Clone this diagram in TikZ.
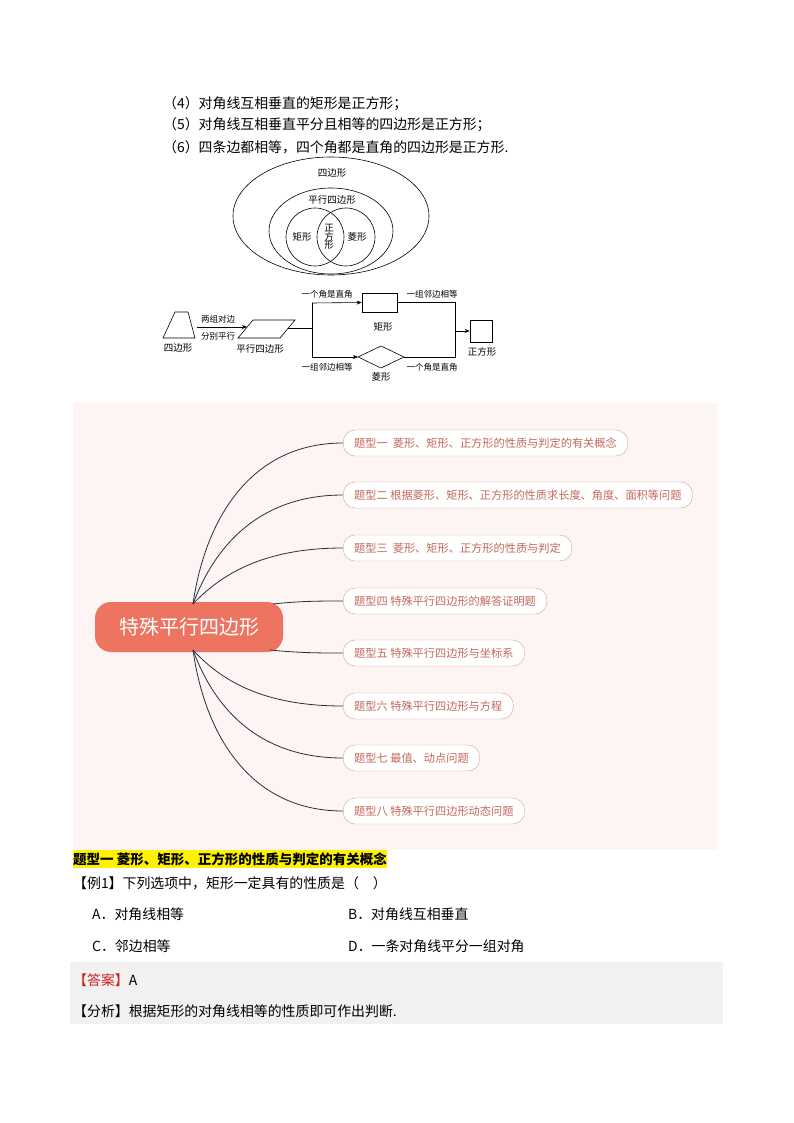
\documentclass[tikz,border=0pt]{standalone}
\usepackage{fontspec}
\setmainfont{Noto Sans CJK SC}
\usetikzlibrary{arrows.meta}
\definecolor{mmbg}{HTML}{FDF5F3}
\definecolor{mmc}{HTML}{EE7462}
\definecolor{mmtxt}{HTML}{C4685B}
\definecolor{mmbd}{HTML}{D9A197}
\definecolor{mmline}{HTML}{2A2D45}
\definecolor{ansbg}{HTML}{F1F1F1}
\definecolor{ansred}{HTML}{D01F1F}
\tikzset{
  fs/.style={font=\fontsize{#1}{#1}\selectfont},
  ptxt/.style={anchor=west,inner sep=0pt,fs=13.9},
  lab/.style={inner sep=0pt,fs=8.5},
  topic/.style={draw=mmbd,fill=white,rounded corners=12pt,minimum height=26pt,anchor=west,inner xsep=11pt,text=mmtxt,fs=11.2},
  branch/.style={draw=mmline,line width=0.8pt},
  fl/.style={draw=black,line width=0.6pt},
  fa/.style={fl,-{Stealth[length=5pt,width=4pt]}}
}
\begin{document}
\begin{tikzpicture}[x=1pt,y=-1pt]
\fill[white] (0,0) rectangle (794,1123);
\useasboundingbox (0,0) rectangle (794,1123);
% text lines
\node[ptxt] (l4) at (163,104) {（4）对角线互相垂直的矩形是正方形；};
\node[ptxt] (l5) at (163,125) {（5）对角线互相垂直平分且相等的四边形是正方形；};
\node[ptxt] (l6) at (163,147) {（6）四条边都相等，四个角都是直角的四边形是正方形.};
% Venn
\draw[fl] (331,216) ellipse (98 and 59);
\draw[fl] (331,231) ellipse (62 and 43);
\draw[fl] (315,237) circle (29);
\draw[fl] (346,237) circle (29);
\node[lab,fs=9.5] (v1) at (332,173) {四边形};
\node[lab,fs=9.5] (v2) at (332,200) {平行四边形};
\node[lab,fs=9.5] (v3) at (302,237) {矩形};
\node[lab,fs=9.5] (v4) at (357,237) {菱形};
\node[lab,fs=9.5,align=center] (v5) at (329,237) {正\\[-1pt]方\\[-1pt]形};
% flow chart
\draw[fl] (163,338) -- (175,312) -- (188,312) -- (195,338) -- cycle;
\node[lab,fs=9.5] (q) at (178,348) {四边形};
\coordinate (a1) at (197,327); \coordinate (a2) at (247,327);
\draw[fa] (a1) -- (a2);
\node[lab] (t1) at (218,319) {两组对边};
\node[lab] (t2) at (218,336) {分别平行};
\draw[fl] (238,338) -- (253,320) -- (295,320) -- (280,338) -- cycle;
\node[lab,fs=9.5] (pq) at (260,349) {平行四边形};
\coordinate (b1) at (288,328); \coordinate (b2) at (312,328);
\coordinate (bt) at (312,303); \coordinate (bb) at (312,357);
\draw[fl] (b1) -- (b2); \draw[fl] (bt) -- (bb);
\node[fl,draw,minimum width=35pt,minimum height=19pt,inner sep=0pt] (rect) at (379.5,302.5) {};
\draw[fa] (bt) -- (rect.west);
\node[lab] (t3) at (327,294) {一个角是直角};
\node[lab] (t4) at (432,294) {一组邻边相等};
\node[lab,fs=9.5] (jx) at (383,327) {矩形};
\node[fl,draw,minimum width=22pt,minimum height=22pt,inner sep=0pt] (sq) at (481,331) {};
\node[lab,fs=9.5] (zf) at (482,352) {正方形};
\coordinate (c1) at (455,331);
\draw[fl] (rect.east) -- (455,302.5) -- (c1);
\draw[fa] (c1) -- (sq.west);
\coordinate (dw) at (358,357); \coordinate (de) at (404,357);
\draw[fl] (dw) -- (381,346) -- (de) -- (381,368) -- cycle;
\draw[fa] (bb) -- (dw);
\draw[fl] (de) -- (455,357) -- (c1);
\node[lab,fs=9.5] (lx) at (381,377) {菱形};
\node[lab] (t5) at (327,367) {一组邻边相等};
\node[lab] (t6) at (432,367) {一个角是直角};
% mind map
\fill[mmbg] (73,403) rectangle (718,850);
\node[fill=mmc,rounded corners=16pt,minimum width=188pt,minimum height=50pt,text=white,fs=20] (root) at (189,627) {特殊平行四边形};
\node[topic] (k1) at (343,443) {题型一\ \ 菱形、矩形、正方形的性质与判定的有关概念};
\node[topic] (k2) at (343,495) {题型二 根据菱形、矩形、正方形的性质求长度、角度、面积等问题};
\node[topic] (k3) at (343,548) {题型三\ \ 菱形、矩形、正方形的性质与判定};
\node[topic] (k4) at (343,601) {题型四 特殊平行四边形的解答证明题};
\node[topic] (k5) at (343,653) {题型五 特殊平行四边形与坐标系};
\node[topic] (k6) at (343,706) {题型六 特殊平行四边形与方程};
\node[topic] (k7) at (343,758) {题型七 最值、动点问题};
\node[topic] (k8) at (343,811) {题型八 特殊平行四边形动态问题};
\coordinate (rt) at (193,604); \coordinate (rb) at (193,650);
\draw[branch] (rt) .. controls (205,520) and (250,443) .. (k1.west);
\draw[branch] (rt) .. controls (215,545) and (260,495) .. (k2.west);
\draw[branch] (rt) .. controls (225,570) and (270,548) .. (k3.west);
\draw[branch] (273,604) .. controls (300,601) and (320,601) .. (k4.west);
\draw[branch] (270,650) .. controls (300,653) and (320,653) .. (k5.west);
\draw[branch] (rb) .. controls (225,685) and (270,706) .. (k6.west);
\draw[branch] (rb) .. controls (215,710) and (260,758) .. (k7.west);
\draw[branch] (rb) .. controls (205,735) and (250,811) .. (k8.west);
% question
\node[ptxt,fill=yellow,inner ysep=2pt,font=\fontsize{13.5}{14}\selectfont\bfseries] (h) at (73,859) {题型一 菱形、矩形、正方形的性质与判定的有关概念};
\node[ptxt] (ex) at (73,883) {【例1】下列选项中，矩形一定具有的性质是（\quad ）};
\node[ptxt] (oa) at (92,914) {A．对角线相等};
\node[ptxt] (ob) at (348,914) {B．对角线互相垂直};
\node[ptxt] (oc) at (92,946) {C．邻边相等};
\node[ptxt] (od) at (348,946) {D．一条对角线平分一组对角};
\fill[ansbg] (70,962) rectangle (723,1024);
\node[ptxt] (ans) at (73,980) {\textcolor{ansred}{【答案】}A};
\node[ptxt] (fx) at (73,1011) {【分析】根据矩形的对角线相等的性质即可作出判断.};
\end{tikzpicture}
\end{document}
